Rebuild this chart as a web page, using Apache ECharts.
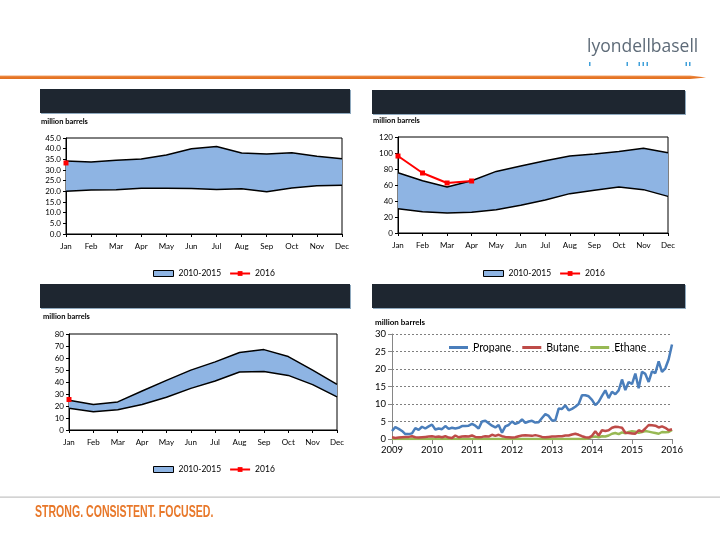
<!DOCTYPE html>
<html><head><meta charset="utf-8">
<script src="https://cdn.jsdelivr.net/npm/echarts@6/dist/echarts.min.js"></script>
<style>html,body{margin:0;padding:0;background:#fff}#c{width:720px;height:540px}</style>
</head><body><div id="c"></div>
<script>
// ---------- DATA ----------
const months = ['Jan','Feb','Mar','Apr','May','Jun','Jul','Aug','Sep','Oct','Nov','Dec'];

// Top-left panel
const tlLower = [20.0, 20.6, 20.8, 21.4, 21.4, 21.3, 20.9, 21.2, 19.8, 21.6, 22.6, 22.8];
const tlUpper = [34.2, 33.7, 34.6, 35.2, 37.0, 40.0, 41.0, 38.0, 37.5, 38.1, 36.5, 35.3];
const tl2016  = [33.3, null, null, null, null, null, null, null, null, null, null, null];
const tlTicks = [0, 45, 5];

// Top-right panel
const trLower = [30.4, 26.7, 25.0, 25.8, 29.2, 34.6, 41.2, 49.2, 53.3, 57.5, 54.2, 45.8];
const trUpper = [75.4, 65.4, 57.5, 65.4, 77.0, 83.7, 90.4, 96.2, 98.7, 102.0, 105.8, 100.4];
const tr2016  = [96.2, 75.0, 62.5, 65.0, null, null, null, null, null, null, null, null];
const trTicks = [0, 120, 20];

// Bottom-left panel
const blLower = [18.2, 15.2, 16.8, 21.2, 27.3, 34.7, 40.8, 48.3, 48.8, 45.5, 37.8, 27.6];
const blUpper = [24.8, 21.2, 23.4, 32.5, 41.4, 49.9, 56.8, 64.6, 67.0, 61.2, 49.9, 38.1];
const bl2016  = [25.4, null, null, null, null, null, null, null, null, null, null, null];
const blTicks = [0, 80, 10];

// Bottom-right panel (monthly, Jan 2009 - Jan 2016)
const brYears = [2009, 2010, 2011, 2012, 2013, 2014, 2015, 2016];
const propane = [
  2.3, 3.4, 2.9, 2.3, 1.4, 1.4, 1.6, 3.1, 2.6, 3.5, 3.0, 3.6,
  4.1, 2.7, 3.0, 2.8, 3.7, 2.9, 3.2, 3.0, 3.2, 3.7, 3.7, 3.8,
  4.3, 3.8, 3.0, 5.0, 5.2, 4.5, 3.8, 3.3, 4.0, 1.8, 3.6, 4.0,
  5.0, 4.3, 4.7, 5.6, 4.6, 5.0, 5.2, 4.7, 4.8, 6.0, 7.1, 6.6,
  5.3, 5.3, 8.7, 8.6, 9.6, 8.2, 8.6, 9.2, 10.0, 12.5, 12.5, 12.2,
  11.2, 9.7, 10.6, 12.3, 13.9, 11.7, 13.5, 12.8, 13.9, 17.0, 14.0, 16.3,
  15.7, 18.7, 14.5, 19.2, 18.6, 16.3, 19.3, 18.8, 22.2, 19.2, 20.2, 22.8,
  27.0
];
const butane = [
  0.5, 0.3, 0.4, 0.5, 0.6, 0.6, 0.8, 0.5, 0.4, 0.5, 0.6, 0.7,
  0.8, 0.6, 0.7, 0.5, 0.8, 0.4, 0.3, 1.0, 0.5, 0.7, 0.8, 0.7,
  1.0, 0.6, 0.5, 0.6, 0.8, 0.7, 1.2, 0.9, 1.2, 0.8, 0.6, 0.5,
  0.4, 0.5, 0.8, 1.0, 1.1, 1.0, 0.9, 1.1, 0.9, 0.6, 0.5, 0.6,
  0.7, 0.7, 0.8, 0.8, 1.0, 1.0, 1.3, 1.5, 1.2, 0.8, 0.5, 0.4,
  0.9, 2.2, 1.0, 2.5, 2.3, 2.5, 3.2, 3.5, 3.4, 3.2, 1.8, 1.7,
  1.6, 1.5, 2.5, 2.1, 3.0, 4.0, 3.9, 3.8, 3.3, 3.6, 3.2, 2.5,
  2.8
];
const ethane = [
  0, 0, 0, 0, 0, 0, 0, 0, 0, 0, 0, 0,
  0, 0, 0, 0, 0, 0, 0, 0, 0, 0, 0, 0,
  0, 0, 0, 0, 0, 0, 0, 0, 0, 0, 0, 0,
  0, 0, 0, 0, 0, 0, 0, 0, 0, 0, 0, 0,
  0, 0, 0, 0, 0, 0, 0, 0, 0, 0, 0, 0.2,
  0.6, 0.7, 0.5, 0.8, 0.7, 1.0, 1.5, 1.7, 1.4, 1.9, 1.6, 2.0,
  2.2, 2.1, 1.8, 2.0, 2.3, 2.1, 1.9, 1.7, 1.5, 2.0, 1.9, 2.0,
  2.6
];
const brTicks = [0, 30, 5];

// ---------- BUILD ----------
const FONT = 'Lato';
const BAND = '#8EB4E3';
const brCats = [];
brYears.forEach(y => { for (let m = 1; m <= 12; m++) { if (brCats.length < propane.length) brCats.push(y + '-' + (m < 10 ? '0' + m : m)); } });

const grids = [
  {left: 66, right: 378, top: 138, bottom: 306, show: true, borderColor: '#000', borderWidth: 1},
  {left: 398, right: 52, top: 137, bottom: 307, show: true, borderColor: '#000', borderWidth: 1},
  {left: 69, right: 383, top: 334, bottom: 110, show: true, borderColor: '#000', borderWidth: 1},
  {left: 392, right: 48, top: 334, bottom: 101}
];

function catAxis(i) {
  return {
    type: 'category', gridIndex: i, data: months, boundaryGap: false,
    axisLine: {lineStyle: {color: '#000', width: 1}},
    axisTick: {show: true, length: 3, lineStyle: {color: '#000'}},
    axisLabel: {fontFamily: FONT, fontSize: 8, color: '#000', margin: 8}
  };
}
function valAxis(i, t, dec) {
  return {
    type: 'value', gridIndex: i, min: t[0], max: t[1], interval: t[2],
    axisLine: {show: true, lineStyle: {color: '#000', width: 1}},
    axisTick: {show: true, length: 3, lineStyle: {color: '#000'}},
    splitLine: {show: false},
    axisLabel: {fontFamily: FONT, fontSize: 8, color: '#000', margin: 5,
      formatter: v => dec ? v.toFixed(1) : String(v)}
  };
}
function bandSeries(i, lower, upper, s2016) {
  const diff = upper.map((u, k) => +(u - lower[k]).toFixed(2));
  return [
    {type: 'line', name: 'low' + i, xAxisIndex: i, yAxisIndex: i, stack: 'b' + i, data: lower,
     symbol: 'none', lineStyle: {color: '#000', width: 1.5}, z: 4, silent: true},
    {type: 'line', name: '2010-2015', xAxisIndex: i, yAxisIndex: i, stack: 'b' + i, data: diff,
     symbol: 'none', lineStyle: {color: '#000', width: 1.5},
     areaStyle: {color: BAND, opacity: 1}, itemStyle: {color: BAND}, z: 3},
    {type: 'line', name: '2016', xAxisIndex: i, yAxisIndex: i, data: s2016,
     symbol: 'rect', symbolSize: 5, connectNulls: false,
     lineStyle: {color: '#FF0000', width: 2}, itemStyle: {color: '#FF0000'}, z: 5}
  ];
}
function bandLegend(left, top) {
  return {
    left: left, top: top, itemWidth: 20, itemHeight: 6, itemGap: 8,
    textStyle: {fontFamily: FONT, fontSize: 8.5, color: '#000'},
    data: [
      {name: '2010-2015', icon: 'rect', itemStyle: {color: BAND, borderColor: '#000', borderWidth: 1}},
      {name: '2016'}
    ],
    selectedMode: false
  };
}

const option = {
  animation: false,
  textStyle: {fontFamily: FONT},
  grid: grids,
  xAxis: [
    catAxis(0), catAxis(1), catAxis(2),
    {type: 'category', gridIndex: 3, data: brCats, boundaryGap: false,
     axisLine: {lineStyle: {color: '#868686', width: 1}},
     axisTick: {show: true, interval: 11, length: 5, lineStyle: {color: '#868686'}},
     axisLabel: {interval: 11, fontFamily: FONT, fontSize: 9.5, color: '#000', margin: 6,
       formatter: v => v.slice(0, 4)}}
  ],
  yAxis: [
    valAxis(0, tlTicks, true), valAxis(1, trTicks, false), valAxis(2, blTicks, false),
    {type: 'value', gridIndex: 3, min: brTicks[0], max: brTicks[1], interval: brTicks[2],
     axisLine: {show: true, lineStyle: {color: '#868686'}},
     axisTick: {show: true, length: 4, lineStyle: {color: '#868686'}},
     splitLine: {show: true, lineStyle: {color: '#7F7F7F', type: [2, 2], width: 1}},
     axisLabel: {fontFamily: FONT, fontSize: 9.5, color: '#000', margin: 6}}
  ],
  legend: [
    bandLegend(148, 264),
    bandLegend(478, 264),
    bandLegend(148, 460),
    {left: 444, top: 337, itemWidth: 19, itemHeight: 3, itemGap: 11, icon: 'rect', selectedMode: false,
     textStyle: {fontFamily: FONT, fontSize: 10.5, color: '#000'},
     data: ['Propane', 'Butane', 'Ethane']}
  ],
  series: [
    ...bandSeries(0, tlLower, tlUpper, tl2016),
    ...bandSeries(1, trLower, trUpper, tr2016),
    ...bandSeries(2, blLower, blUpper, bl2016),
    {type: 'line', name: 'Propane', xAxisIndex: 3, yAxisIndex: 3, data: propane, symbol: 'none',
     lineStyle: {color: '#4A7EBB', width: 2.5}, itemStyle: {color: '#4A7EBB'}, z: 4},
    {type: 'line', name: 'Butane', xAxisIndex: 3, yAxisIndex: 3, data: butane, symbol: 'none',
     lineStyle: {color: '#BE4B48', width: 2.5}, itemStyle: {color: '#BE4B48'}, z: 3},
    {type: 'line', name: 'Ethane', xAxisIndex: 3, yAxisIndex: 3, data: ethane, symbol: 'none',
     lineStyle: {color: '#98B954', width: 2.5}, itemStyle: {color: '#98B954'}, z: 2}
  ],
  graphic: [
    // top orange rule
    {type: 'polygon', shape: {points: [[0, 75.5], [690, 75.5], [706, 77.5], [690, 79], [0, 79]]},
     style: {fill: {type: 'linear', x: 0, y: 0, x2: 0, y2: 1,
       colorStops: [{offset: 0, color: '#F2A66E'}, {offset: 0.4, color: '#E8782A'}, {offset: 1, color: '#E0701F'}]}}},
    // logo
    {type: 'text', x: 587, y: 38, style: {text: 'lyondellbasell', fill: '#5E6B78',
      font: '17.5px "Open Sans", sans-serif'}},
    {type: 'rect', shape: {x: 589, y: 62, width: 1.5, height: 4}, style: {fill: '#3FA0DA'}},
    {type: 'rect', shape: {x: 626.5, y: 62, width: 1.5, height: 4}, style: {fill: '#3FA0DA'}},
    {type: 'rect', shape: {x: 638.5, y: 62, width: 1.5, height: 4}, style: {fill: '#3FA0DA'}},
    {type: 'rect', shape: {x: 642.5, y: 62, width: 1.5, height: 4}, style: {fill: '#3FA0DA'}},
    {type: 'rect', shape: {x: 646.5, y: 62, width: 1.5, height: 4}, style: {fill: '#3FA0DA'}},
    {type: 'rect', shape: {x: 685.5, y: 62, width: 1.5, height: 4}, style: {fill: '#3FA0DA'}},
    {type: 'rect', shape: {x: 689, y: 62, width: 1.5, height: 4}, style: {fill: '#3FA0DA'}},
    // header bars (with slight shadow)
    {type: 'rect', shape: {x: 41, y: 90, width: 310, height: 24}, style: {fill: '#8FA9BE'}},
    {type: 'rect', shape: {x: 40, y: 89, width: 310, height: 24}, style: {fill: '#1E2630'}},
    {type: 'rect', shape: {x: 373, y: 91, width: 313, height: 24}, style: {fill: '#8FA9BE'}},
    {type: 'rect', shape: {x: 372, y: 90, width: 313, height: 24}, style: {fill: '#1E2630'}},
    {type: 'rect', shape: {x: 41, y: 285, width: 310, height: 24}, style: {fill: '#8FA9BE'}},
    {type: 'rect', shape: {x: 40, y: 284, width: 310, height: 24}, style: {fill: '#1E2630'}},
    {type: 'rect', shape: {x: 373, y: 285, width: 313, height: 24}, style: {fill: '#8FA9BE'}},
    {type: 'rect', shape: {x: 372, y: 284, width: 313, height: 24}, style: {fill: '#1E2630'}},
    // unit labels
    {type: 'text', left: 41, top: 118, style: {text: 'million barrels', fill: '#000', font: 'bold 7.5px Lato'}},
    {type: 'text', left: 373, top: 117, style: {text: 'million barrels', fill: '#000', font: 'bold 7.5px Lato'}},
    {type: 'text', left: 43, top: 313, style: {text: 'million barrels', fill: '#000', font: 'bold 7.5px Lato'}},
    {type: 'text', left: 375, top: 318, style: {text: 'million barrels', fill: '#000', font: 'bold 8px Lato'}},
    // footer
    {type: 'rect', shape: {x: 0, y: 496.5, width: 720, height: 1.2}, style: {fill: '#C4C4C4'}},
    {type: 'text', x: 35, y: 504, scaleX: 0.64, style: {text: 'STRONG. CONSISTENT. FOCUSED.', fill: '#E8782A',
      font: 'bold 16.5px "Liberation Sans", sans-serif'}}
  ]
};
const chart = echarts.init(document.getElementById('c'), null, {renderer: 'canvas'});
chart.setOption(option);
</script>
</body></html>
